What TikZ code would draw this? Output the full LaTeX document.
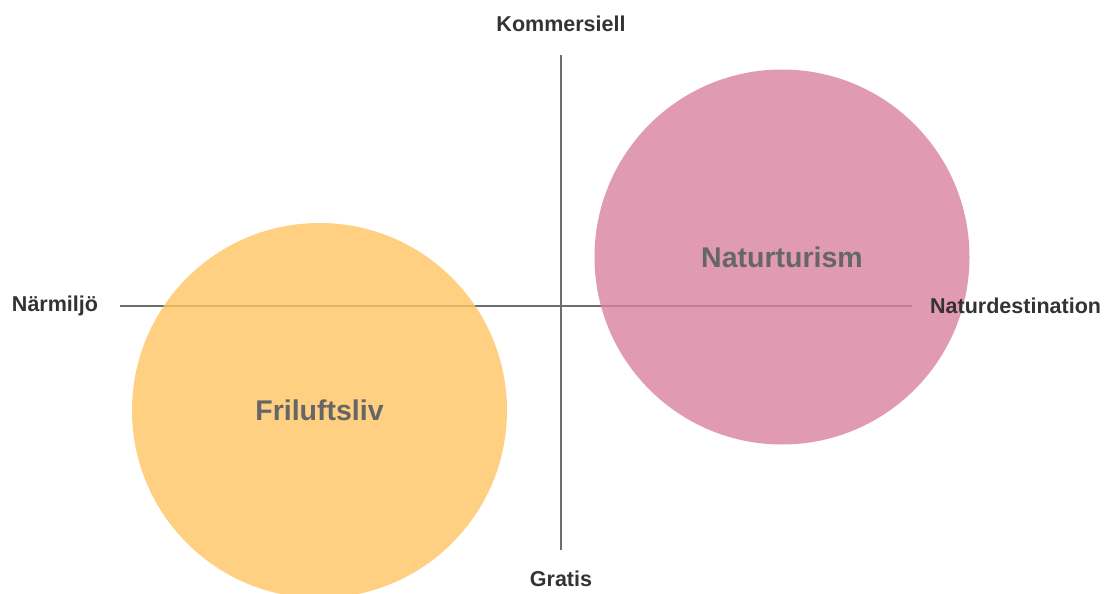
\documentclass[tikz,border=0pt]{standalone}
\usepackage{fontspec}
\setmainfont{Liberation Sans}
\usepackage{tikz}
\usetikzlibrary{calc}
\usetikzlibrary{positioning}

\definecolor{axisgray}{RGB}{110,110,110}
\definecolor{labelgray}{RGB}{51,51,51}
\definecolor{bubblegray}{RGB}{102,102,102}
\definecolor{orangefill}{RGB}{255,196,99}
\definecolor{pinkfill}{RGB}{216,130,160}

\tikzset{
  axislabel/.style={text=labelgray,font=\fontsize{21.5}{25}\selectfont\bfseries,inner sep=0pt},
  bubble/.style={circle,minimum size=375pt,inner sep=0pt,fill opacity=0.8,text opacity=1,
    text=bubblegray,font=\fontsize{28.5}{33}\selectfont\bfseries},
}

\begin{document}
\begin{tikzpicture}[x=1pt,y=-1pt]
    \useasboundingbox (0,0) rectangle (1111,594);
    \clip (0,0) rectangle (1111,594);
    % axes
    \coordinate (west) at (120,306);
    \coordinate (east) at (912,306);
    \coordinate (north) at (561,55);
    \coordinate (south) at (561,550);
    \draw[axisgray,line width=1.3pt] (west) -- (east);
    \draw[axisgray,line width=1.3pt] (north) -- (south);
    % bubbles
    \node[bubble,fill=orangefill] (friluftsliv) at (319.5,410.5) {Friluftsliv};
    \node[bubble,fill=pinkfill] (naturturism) at (782,257) {Naturturism};
    % axis labels
    \node[axislabel] (kommersiell) at (561,24) {Kommersiell};
    \node[axislabel] (gratis) at (561,579) {Gratis};
    \node[axislabel] (narmiljo) at (55,306) {Närmiljö};
    \node[axislabel,anchor=west] (naturdest) at (930,306) {Naturdestination};
  \end{tikzpicture}
\end{document}
